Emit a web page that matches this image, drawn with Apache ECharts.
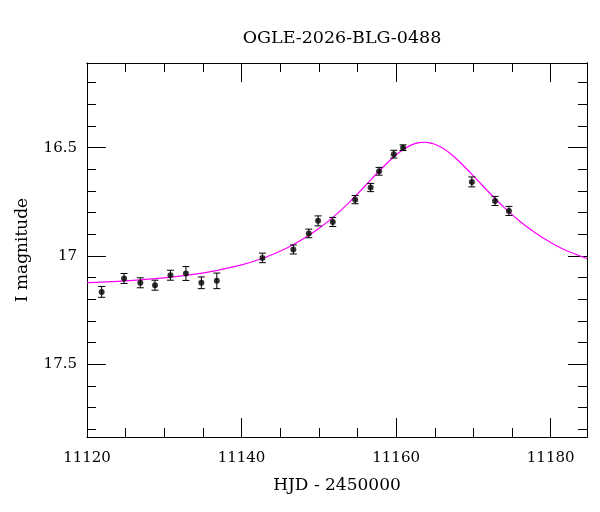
<!DOCTYPE html>
<html>
<head>
    <meta charset="utf-8">
    <title>OGLE-2026-BLG-0488</title>
    <script src="https://cdn.jsdelivr.net/npm/echarts@6/dist/echarts.min.js"></script>
    <style>
        html, body { margin: 0; padding: 0; background: #fff; }
        #main { width: 600px; height: 512px; }
    </style>
</head>
<body>
    <div id="main"></div>
    <script type="text/javascript">
        // photometry points (HJD - 2450000, I mag, error)
        var dates = [11121.9, 11124.8, 11126.9, 11128.8, 11130.8, 11132.8, 11134.8, 11136.8,
                     11142.7, 11146.7, 11148.7, 11149.9, 11151.8, 11154.7, 11156.7, 11157.8,
                     11159.7, 11160.9, 11169.8, 11172.8, 11174.6];
        var mags = [17.166, 17.104, 17.124, 17.135, 17.089, 17.081, 17.124, 17.115,
                    17.009, 16.970, 16.896, 16.838, 16.843, 16.740, 16.684, 16.609,
                    16.530, 16.500, 16.658, 16.746, 16.792];
        var errs = [0.025, 0.023, 0.023, 0.023, 0.023, 0.032, 0.027, 0.036,
                    0.022, 0.021, 0.020, 0.023, 0.021, 0.019, 0.019, 0.018,
                    0.018, 0.013, 0.023, 0.021, 0.021];

        // model light curve
        var modelDates = [11120, 11124, 11128, 11132, 11136, 11140, 11142, 11144, 11146, 11148,
                          11150, 11152, 11154, 11156, 11158, 11160, 11161, 11162, 11163, 11163.6,
                          11164, 11165, 11166, 11167, 11168, 11170, 11172, 11174, 11176, 11178,
                          11180, 11182, 11184.7];
        var modelMags = [17.123, 17.117, 17.107, 17.093, 17.072, 17.041, 17.020, 16.993, 16.961, 16.921,
                         16.873, 16.816, 16.750, 16.676, 16.601, 16.533, 16.507, 16.487, 16.477, 16.475,
                         16.476, 16.484, 16.502, 16.527, 16.558, 16.630, 16.706, 16.777, 16.840, 16.893,
                         16.938, 16.975, 17.012];

        // ticks
        var xMajor = [11120, 11140, 11160, 11180];
        var xMinor = [11125, 11130, 11135, 11145, 11150, 11155, 11165, 11170, 11175];
        var yMajor = [16.5, 17, 17.5];
        var yMinor = [16.2, 16.3, 16.4, 16.6, 16.7, 16.8, 16.9, 17.1, 17.2, 17.3, 17.4, 17.6, 17.7, 17.8];

        var FONT = 'DejaVu Serif';
        var xMin = 11120, xMax = 11184.7;
        var yMin = 16.109, yMax = 17.836;

        function plain(v) { return String(v); }

        function xAx(pos, ticks, len, labels, name) {
            return {
                type: 'value', position: pos, min: xMin, max: xMax,
                name: name || '', nameLocation: 'middle', nameGap: 40,
                nameTextStyle: { fontFamily: FONT, fontSize: 17, color: '#000' },
                axisLine: { show: !!labels || pos === 'top', lineStyle: { color: '#000', width: 1 } },
                axisTick: { show: true, inside: true, length: len, customValues: ticks,
                            lineStyle: { color: '#000', width: 1 } },
                axisLabel: labels ? { show: true, customValues: labels, margin: 14, formatter: plain,
                                      fontFamily: FONT, fontSize: 15, color: '#000' } : { show: false },
                splitLine: { show: false }
            };
        }
        function yAx(pos, ticks, len, labels, name) {
            return {
                type: 'value', position: pos, min: yMin, max: yMax, inverse: true,
                name: name || '', nameLocation: 'middle', nameGap: 56, nameRotate: 90,
                nameTextStyle: { fontFamily: FONT, fontSize: 17, color: '#000' },
                axisLine: { show: !!labels || pos === 'right', lineStyle: { color: '#000', width: 1 } },
                axisTick: { show: true, inside: true, length: len, customValues: ticks,
                            lineStyle: { color: '#000', width: 1 } },
                axisLabel: labels ? { show: true, customValues: labels, margin: 10, formatter: plain,
                                      fontFamily: FONT, fontSize: 15, color: '#000' } : { show: false },
                splitLine: { show: false }
            };
        }

        var myChart = echarts.init(document.getElementById('main'));

        myChart.setOption({
            animation: false,
            backgroundColor: '#fff',
            title: {
                text: 'OGLE-2026-BLG-0488',
                left: 337, top: 24, textAlign: 'center',
                textStyle: { fontFamily: FONT, fontSize: 17.5, fontWeight: 'normal', color: '#000' }
            },
            grid: { left: 87, right: 13, top: 63, bottom: 75 },
            xAxis: [
                xAx('bottom', xMajor, 19, xMajor, 'HJD - 2450000'),
                xAx('bottom', xMinor, 9),
                xAx('top', xMajor, 19),
                xAx('top', xMinor, 9)
            ],
            yAxis: [
                yAx('left', yMajor, 19, yMajor, 'I magnitude'),
                yAx('left', yMinor, 9),
                yAx('right', yMajor, 19),
                yAx('right', yMinor, 9)
            ],
            series: [
                {
                    type: 'line',
                    data: modelDates.map(function (d, i) { return [d, modelMags[i]]; }),
                    smooth: 0.3,
                    showSymbol: false,
                    lineStyle: { color: '#ff00ff', width: 1.2 },
                    z: 2
                },
                {
                    type: 'custom',
                    data: dates.map(function (d, i) { return [d, mags[i] - errs[i], mags[i] + errs[i]]; }),
                    encode: { x: 0, y: [1, 2] },
                    renderItem: function (params, api) {
                        var a = api.coord([api.value(0), api.value(1)]);
                        var b = api.coord([api.value(0), api.value(2)]);
                        var hw = 3.5;
                        var st = { stroke: '#000', lineWidth: 1 };
                        return {
                            type: 'group',
                            children: [
                                { type: 'line', shape: { x1: a[0], y1: a[1], x2: b[0], y2: b[1] }, style: st },
                                { type: 'line', shape: { x1: a[0] - hw, y1: a[1], x2: a[0] + hw, y2: a[1] }, style: st },
                                { type: 'line', shape: { x1: b[0] - hw, y1: b[1], x2: b[0] + hw, y2: b[1] }, style: st }
                            ]
                        };
                    },
                    z: 3
                },
                {
                    type: 'scatter',
                    data: dates.map(function (d, i) { return [d, mags[i]]; }),
                    symbol: 'circle',
                    symbolSize: 6,
                    itemStyle: { color: '#000' },
                    z: 4
                }
            ]
        });
    </script>
</body>
</html>
